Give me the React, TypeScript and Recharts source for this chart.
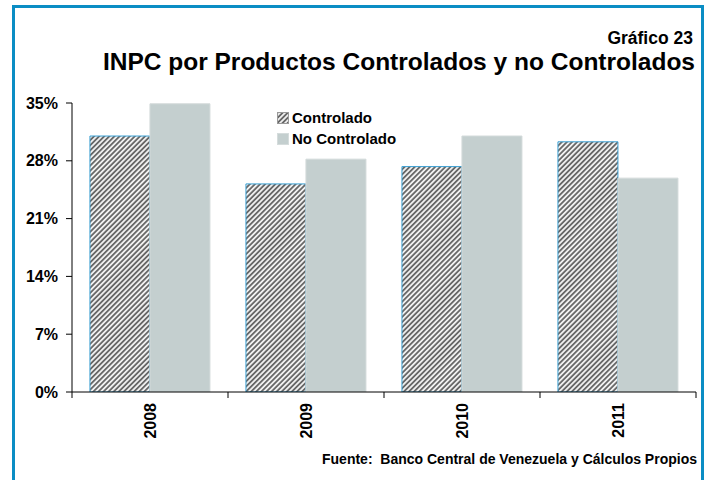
import { BarChart, Bar, XAxis, YAxis } from 'recharts';

const years = ['2008', '2009', '2010', '2011'];
const controlado = [31.0, 25.2, 27.3, 30.3];
const noControlado = [34.9, 28.2, 31.0, 25.9];
const yTicks = [0, 7, 14, 21, 28, 35];

const data = years.map((year, i) => ({
  year,
  controlado: controlado[i],
  noControlado: noControlado[i],
}));

const FONT = '"Liberation Sans", Arial, sans-serif';

// year label rotated, plus tick marks at the category boundaries
function YearTick(props: any) {
  const { x, y, payload, index, visibleTicksCount } = props;
  const half = payload && payload.offset ? payload.offset : 78;
  const last = index === (visibleTicksCount ?? years.length) - 1;
  return (
    <g>
      <line x1={x - half} y1={y - 8} x2={x - half} y2={y - 2} stroke="#000" />
      {last && <line x1={x + half} y1={y - 8} x2={x + half} y2={y - 2} stroke="#000" />}
      <text
        x={x}
        y={y + 3}
        transform={`rotate(-90 ${x} ${y + 3})`}
        textAnchor="end"
        dominantBaseline="central"
        fontFamily={FONT}
        fontWeight="bold"
        fontSize={16}
        fill="#000"
      >
        {payload.value}
      </text>
    </g>
  );
}

function LegendBox() {
  const row = { display: 'flex', alignItems: 'center', height: 21 } as const;
  const label = { fontFamily: FONT, fontWeight: 'bold', fontSize: 15, color: '#000', marginLeft: 3 } as const;
  return (
    <div style={{ position: 'absolute', left: 277, top: 107 }}>
      <div style={row}>
        <svg width={12} height={12}>
          <rect x={0.5} y={0.5} width={11} height={11} fill="url(#stripes)" stroke="#999" />
        </svg>
        <span style={label}>Controlado</span>
      </div>
      <div style={row}>
        <svg width={12} height={12}>
          <rect x={0.5} y={0.5} width={11} height={11} fill="#c4cfcf" stroke="#d5dcdc" />
        </svg>
        <span style={label}>No Controlado</span>
      </div>
    </div>
  );
}

export default function App() {
  return (
    <div style={{ position: 'absolute', left: 0, top: 0, width: 711, height: 480, overflow: 'hidden', background: '#fff' }}>
      <svg width={0} height={0} style={{ position: 'absolute' }}>
        <defs>
          <pattern id="stripes" patternUnits="userSpaceOnUse" width={3.6} height={3.6} patternTransform="rotate(45)">
            <rect width={3.6} height={3.6} fill="#f0f0f0" />
            <rect width={1.8} height={3.6} fill="#686868" />
          </pattern>
        </defs>
      </svg>
      <div
        style={{
          position: 'absolute',
          left: 12,
          top: 5,
          width: 686,
          height: 500,
          border: '3px solid #0a8dc4',
        }}
      />
      <div
        style={{
          position: 'absolute',
          right: 18,
          top: 30,
          lineHeight: 1,
          fontFamily: FONT,
          fontWeight: 'bold',
          fontSize: 17.5,
          color: '#000',
        }}
      >
        Gráfico 23
      </div>
      <div
        style={{
          position: 'absolute',
          right: 16,
          top: 50,
          lineHeight: 1,
          fontFamily: FONT,
          fontWeight: 'bold',
          fontSize: 24.5,
          color: '#000',
          whiteSpace: 'nowrap',
        }}
      >
        INPC por Productos Controlados y no Controlados
      </div>
      <div
        style={{
          position: 'absolute',
          right: 14,
          top: 452,
          lineHeight: 1,
          fontFamily: FONT,
          fontWeight: 'bold',
          fontSize: 14,
          color: '#000',
          whiteSpace: 'pre',
        }}
      >
        {'Fuente:  Banco Central de Venezuela y Cálculos Propios'}
      </div>
      <div style={{ position: 'absolute', left: 0, top: 0 }}>
        <BarChart
          width={711}
          height={480}
          data={data}
          margin={{ top: 103, right: 15, bottom: 28, left: 12 }}
          barCategoryGap="11.5%"
          barGap={0}
        >
          <XAxis
            dataKey="year"
            height={60}
            axisLine={{ stroke: '#000' }}
            tickLine={false}
            tick={<YearTick />}
            interval={0}
          />
          <YAxis
            width={60}
            domain={[0, 35]}
            ticks={yTicks}
            allowDataOverflow
            tickFormatter={(v: number) => `${v}%`}
            axisLine={{ stroke: '#000' }}
            tickLine={{ stroke: '#000' }}
            tickSize={6}
            tick={{ fontFamily: FONT, fontWeight: 'bold', fontSize: 16, fill: '#000', dx: -6 }}
          />
          <Bar dataKey="controlado" name="Controlado" fill="url(#stripes)" stroke="#3aa0d4" strokeWidth={1} isAnimationActive={false} />
          <Bar dataKey="noControlado" name="No Controlado" fill="#c4cfcf" stroke="#d3dada" strokeWidth={1} isAnimationActive={false} />
        </BarChart>
      </div>
      <LegendBox />
    </div>
  );
}
